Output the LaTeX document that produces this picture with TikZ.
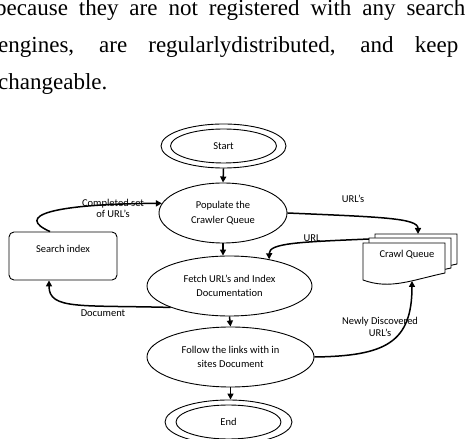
\documentclass[tikz,border=0pt]{standalone}
\usepackage{fontspec}
\setmainfont{Carlito}[Ligatures=NoCommon]
\newfontfamily\bodyfont{Liberation Serif}
\usetikzlibrary{positioning, shapes, arrows.meta, calc}

\begin{document}
\begin{tikzpicture}[x=1pt, y=1pt,
    font=\fontsize{10.5}{14.5}\selectfont,
    proc/.style={ellipse, draw, line width=0.9pt, align=center, inner sep=0pt},
    flow/.style={-{Triangle[length=6pt,width=6pt]}, line width=1.5pt},
    lbl/.style={align=center, inner sep=0pt, font=\fontsize{10.5}{11.5}\selectfont},
    para/.style={anchor=base west, inner sep=0pt, font=\bodyfont\fontsize{23}{23}\selectfont}]
  \useasboundingbox (0,0) rectangle (470,438);

  % paragraph above the chart
  \node[para] (line1) at (-5,422) {\makebox[470pt][s]{because they are not registered with any search}};
  \node[para] (line2) at (-2,385) {\makebox[460pt][s]{engines, are regularlydistributed, and keep}};
  \node[para] (line3) at (-2,348) {changeable.};

  % main column
  \node[proc, minimum width=106pt, minimum height=34pt] (start) at (223.5,292) {Start};
  \node[proc, minimum width=125pt, minimum height=44pt] (startring) at (start) {};
  \node[proc, minimum width=128pt, minimum height=60pt] (populate) at (223,225) {Populate the\\Crawler Queue};
  \node[proc, minimum width=165pt, minimum height=60pt] (fetch) at (229.5,152) {Fetch URL’s and Index\\Documentation};
  \node[proc, minimum width=167pt, minimum height=60pt] (follow) at (230.5,81) {Follow the links with in\\sites Document};
  \node[proc, minimum width=105pt, minimum height=34pt] (end) at (228.5,16) {End};
  \node[proc, minimum width=127pt, minimum height=44pt] (endring) at (end) {};

  % search index box
  \node[draw, rounded corners=5pt, line width=0.9pt, minimum width=108pt, minimum height=48pt,
        text height=7.5pt, text depth=14.5pt, inner sep=0pt] (search) at (63,182) {Search index};

  % crawl queue (stacked pages)
  \foreach \dx/\dy in {12/9, 6/5, 0/0}
    \draw[line width=0.9pt, fill=white, shift={(\dx,\dy)}]
      (363,158) -- (363,195) -- (445,195) -- (445,165) .. controls (412,158) and (390,148) .. (363,158) -- cycle;
  \node (queue) at (407,183) {Crawl Queue};
  \coordinate (qtop) at (418,204);
  \coordinate (qleft) at (369,199);
  \coordinate (qbottom) at (412,157);

  % straight arrows
  \draw[flow] (startring.south) -- (populate.north);
  \draw[flow] (populate.south) -- (populate.south |- fetch.north);
  \draw[flow] (fetch.south) -- (follow.north);
  \draw[flow] (follow.south) -- (follow.south |- endring.north);

  % curved arrows
  \draw[flow] (populate.east) .. controls (380,221) and (418,220) .. (qtop);
  \node[lbl] (urls) at (353,239) {URL’s};
  \draw[flow] (qleft) .. controls (300,196) and (269,195) .. (fetch.34);
  \node[lbl] (url) at (312,200) {URL};
  \draw[flow] (follow.east) .. controls (385,82) and (412,95) .. (qbottom);
  \node[lbl] (newurls) at (380,111) {Newly Discovered\\URL’s};
  \draw[flow] ([xshift=-13pt]search.north) .. controls (15,222) and (50,234) .. (populate.171);
  \node[lbl] (done) at (113,229.5) {Completed set\\of URL’s};
  \draw[flow] (fetch.200) .. controls (80,133) and (49,128) .. ([xshift=-14pt]search.south);
  \node[lbl] (doc) at (103,125) {Document};
\end{tikzpicture}
\end{document}
